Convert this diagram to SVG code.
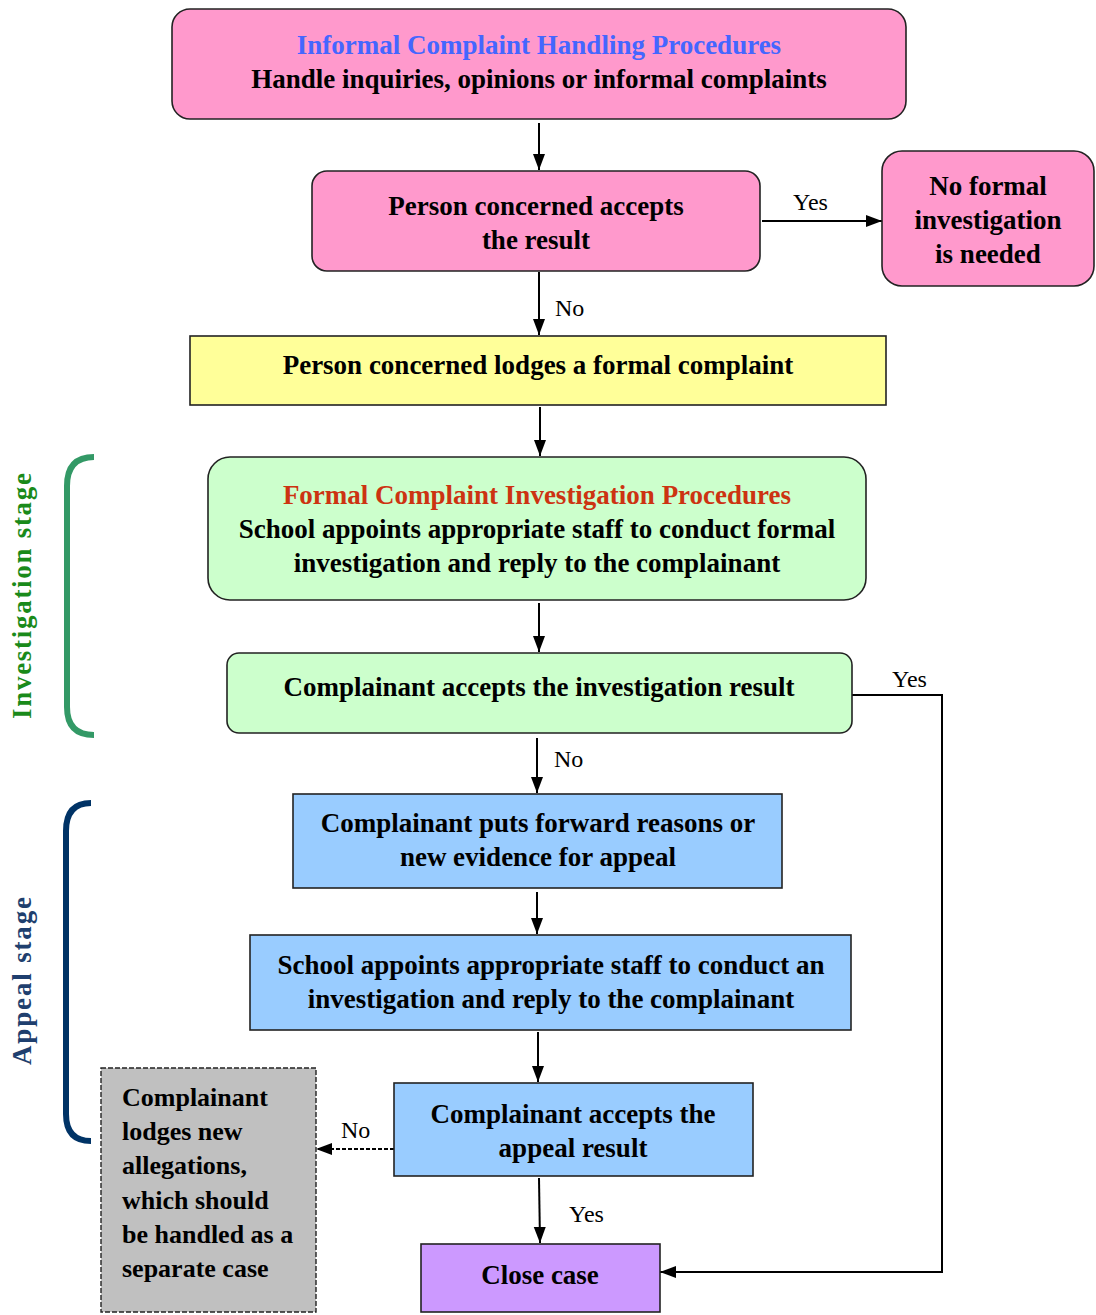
<svg xmlns="http://www.w3.org/2000/svg" width="1096" height="1315" viewBox="0 0 1096 1315">
<defs>
<marker id="ah" markerUnits="userSpaceOnUse" markerWidth="16" markerHeight="16" viewBox="0 0 16 16" refX="16" refY="8" orient="auto">
<path d="M0,2 L16,8 L0,14 Z" fill="#000"/>
</marker>
<style>
.t{font-family:"Liberation Serif","Times New Roman",serif;font-weight:bold;font-size:27px;fill:#000;text-anchor:middle}
.g{font-family:"Liberation Serif","Times New Roman",serif;font-weight:bold;font-size:26px;fill:#000}
.lb{font-family:"Liberation Serif","Times New Roman",serif;font-size:24px;fill:#000}
.bx{stroke:#222;stroke-width:1.6}
.c{fill:none;stroke:#000;stroke-width:2}
.st{font-family:"Liberation Serif","Times New Roman",serif;font-weight:bold;font-size:27px;text-anchor:middle}
.blue{fill:#4466FF}
.red{fill:#CC3311}
</style>
</defs>
<rect width="1096" height="1315" fill="#fff"/>

<g id="stage-labels">
<path d="M94,457 Q67,457 67,486 L67,707 Q67,735 94,735" fill="none" stroke="#339966" stroke-width="6"/>
<text class="st" transform="translate(31,596) rotate(-90)" fill="#1a8a1a" textLength="246" lengthAdjust="spacing">Investigation stage</text>
<path d="M91,803 Q66,803 66,831 L66,1114 Q66,1141 91,1141" fill="none" stroke="#003366" stroke-width="6"/>
<text class="st" transform="translate(31,981) rotate(-90)" fill="#1f3f6e" textLength="168" lengthAdjust="spacing">Appeal stage</text>
</g>

<g id="connectors">
<line class="c" x1="539" y1="123" x2="539" y2="170" marker-end="url(#ah)"/>
<line class="c" x1="762" y1="221" x2="882" y2="221" marker-end="url(#ah)"/>
<text class="lb" x="793" y="210">Yes</text>
<line class="c" x1="539" y1="272" x2="539" y2="335" marker-end="url(#ah)"/>
<text class="lb" x="555" y="316">No</text>
<line class="c" x1="540" y1="407" x2="540" y2="456" marker-end="url(#ah)"/>
<line class="c" x1="539" y1="603" x2="539" y2="652" marker-end="url(#ah)"/>
<polyline class="c" points="852,695 942,695 942,1272 660,1272" marker-end="url(#ah)"/>
<text class="lb" x="892" y="687">Yes</text>
<line class="c" x1="537" y1="738" x2="537" y2="793" marker-end="url(#ah)"/>
<text class="lb" x="554" y="767">No</text>
<line class="c" x1="537" y1="892" x2="537" y2="934" marker-end="url(#ah)"/>
<line class="c" x1="538" y1="1032" x2="538" y2="1082" marker-end="url(#ah)"/>
<line class="c" x1="394" y1="1149" x2="316" y2="1149" stroke-dasharray="4,2" marker-end="url(#ah)"/>
<text class="lb" x="341" y="1138">No</text>
<line class="c" x1="539" y1="1178" x2="540" y2="1243" marker-end="url(#ah)"/>
<text class="lb" x="569" y="1222">Yes</text>
</g>

<g id="informal">
<rect class="bx" x="172" y="9" width="734" height="110" rx="18" fill="#FF99CC"/>
<text class="t blue" x="539" y="54">Informal Complaint Handling Procedures</text>
<text class="t" x="539" y="88">Handle inquiries, opinions or informal complaints</text>
</g>

<g id="accepts-result">
<rect class="bx" x="312" y="171" width="448" height="100" rx="15" fill="#FF99CC"/>
<text class="t" x="536" y="215">Person concerned accepts</text>
<text class="t" x="536" y="249">the result</text>
</g>

<g id="no-formal">
<rect class="bx" x="882" y="151" width="212" height="135" rx="20" fill="#FF99CC"/>
<text class="t" x="988" y="195">No formal</text>
<text class="t" x="988" y="229">investigation</text>
<text class="t" x="988" y="263">is needed</text>
</g>

<g id="lodges-formal">
<rect class="bx" x="190" y="336" width="696" height="69" fill="#FFFF99"/>
<text class="t" x="538" y="374">Person concerned lodges a formal complaint</text>
</g>

<g id="formal-procedures">
<rect class="bx" x="208" y="457" width="658" height="143" rx="22" fill="#CCFFCC"/>
<text class="t red" x="537" y="504">Formal Complaint Investigation Procedures</text>
<text class="t" x="537" y="538">School appoints appropriate staff to conduct formal</text>
<text class="t" x="537" y="572">investigation and reply to the complainant</text>
</g>

<g id="accepts-investigation">
<rect class="bx" x="227" y="653" width="625" height="80" rx="12" fill="#CCFFCC"/>
<text class="t" x="539" y="696">Complainant accepts the investigation result</text>
</g>

<g id="appeal-reasons">
<rect class="bx" x="293" y="794" width="489" height="94" fill="#99CCFF"/>
<text class="t" x="538" y="832">Complainant puts forward reasons or</text>
<text class="t" x="538" y="866">new evidence for appeal</text>
</g>

<g id="appeal-investigation">
<rect class="bx" x="250" y="935" width="601" height="95" fill="#99CCFF"/>
<text class="t" x="551" y="974">School appoints appropriate staff to conduct an</text>
<text class="t" x="551" y="1008">investigation and reply to the complainant</text>
</g>

<g id="accepts-appeal">
<rect class="bx" x="394" y="1083" width="359" height="93" fill="#99CCFF"/>
<text class="t" x="573" y="1123">Complainant accepts the</text>
<text class="t" x="573" y="1157">appeal result</text>
</g>

<g id="new-allegations">
<rect x="101" y="1068" width="215" height="244" fill="#C0C0C0" stroke="#222" stroke-width="1.4" stroke-dasharray="5,2"/>
<text class="g" x="122" y="1106">Complainant</text>
<text class="g" x="122" y="1140">lodges new</text>
<text class="g" x="122" y="1174">allegations,</text>
<text class="g" x="122" y="1209">which should</text>
<text class="g" x="122" y="1243">be handled as a</text>
<text class="g" x="122" y="1277">separate case</text>
</g>

<g id="close-case">
<rect class="bx" x="421" y="1244" width="239" height="68" fill="#CC99FF"/>
<text class="t" x="540" y="1284">Close case</text>
</g>
</svg>
